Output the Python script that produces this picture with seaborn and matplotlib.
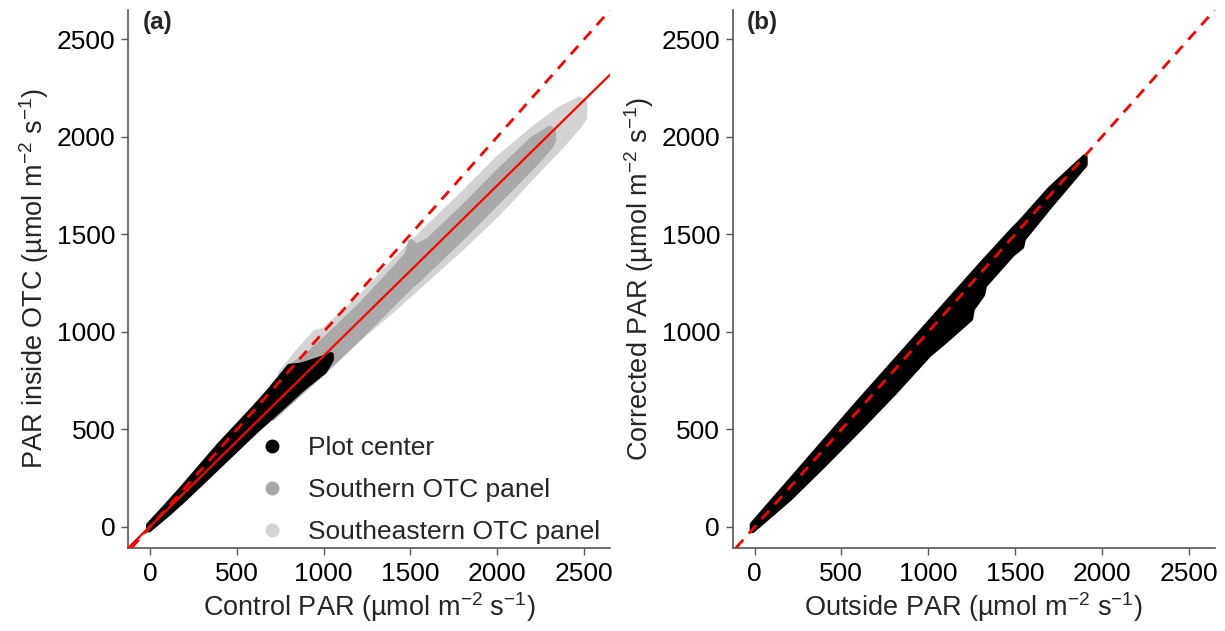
import matplotlib
matplotlib.use("Agg")
import matplotlib.pyplot as plt
from matplotlib.lines import Line2D
import seaborn as sns

# ---- data: envelopes of the PAR point clouds (umol m-2 s-1) ----
# Panel (a): inside OTC vs control
center_x = [-10, 100, 200, 300, 400, 500, 600, 700, 800, 860, 900, 1000, 1040]
center_hi = [12, 118, 218, 322, 425, 520, 615, 715, 825, 830, 840, 870, 885]
center_lo = [-12, 70, 150, 235, 320, 405, 490, 570, 650, 700, 730, 800, 860]

south_x = [700, 800, 900, 1000, 1200, 1400, 1480, 1500, 1530, 1600, 1800, 2000, 2200, 2300, 2320]
south_hi = [720, 820, 880, 960, 1130, 1320, 1400, 1465, 1440, 1470, 1640, 1820, 1990, 2045, 2030]
south_lo = [560, 640, 720, 800, 970, 1150, 1220, 1240, 1260, 1320, 1490, 1670, 1850, 1950, 1985]

southeast_x = [750, 850, 950, 1000, 1200, 1400, 1600, 1800, 2000, 2200, 2350, 2470, 2500]
southeast_hi = [790, 900, 1000, 1010, 1170, 1360, 1540, 1710, 1890, 2040, 2140, 2195, 2180]
southeast_lo = [600, 690, 770, 810, 970, 1120, 1280, 1440, 1610, 1800, 1940, 2060, 2100]

fit_slope = 0.874
fit_intercept = 3.0

# Panel (b): corrected vs outside
corr_x = [-15, 200, 400, 600, 800, 1000, 1100, 1240, 1250, 1310, 1320, 1480, 1535, 1545, 1700, 1900]
corr_hi = [15, 235, 440, 645, 845, 1045, 1145, 1285, 1295, 1355, 1365, 1520, 1570, 1580, 1735, 1900]
corr_lo = [-15, 150, 325, 505, 690, 885, 960, 1070, 1120, 1195, 1240, 1400, 1440, 1480, 1650, 1860]

series_names = ["Plot center", "Southern OTC panel", "Southeastern OTC panel"]
series_colors = ["#000000", "#A9A9A9", "#D3D3D3"]

ticks = [0, 500, 1000, 1500, 2000, 2500]
xlim = (-127, 2650)
ylim = (-108, 2650)

sns.set_theme(style="ticks")
plt.rcParams["font.family"] = ["Liberation Sans", "DejaVu Sans"]
plt.rcParams["mathtext.fontset"] = "custom"
plt.rcParams["mathtext.rm"] = "Liberation Sans"
plt.rcParams["mathtext.it"] = "Liberation Sans:italic"

fig = plt.figure(figsize=(12.25, 6.31), dpi=100)
ax_a = fig.add_axes([0.1045, 0.1315, 0.3935, 0.8525])
ax_b = fig.add_axes([0.598, 0.1315, 0.3935, 0.8525])

spine_col = "#555555"
tick_fs = 19
label_fs = 19.5


def cloud(ax, x, lo, hi, color, z):
    ax.fill_between(x, lo, hi, facecolor=color, edgecolor=color,
                    linewidth=4, joinstyle="round", capstyle="round", zorder=z)


def style(ax, xlabel, ylabel, tag):
    ax.set_xlim(*xlim)
    ax.set_ylim(*ylim)
    ax.set_xticks(ticks)
    ax.set_yticks(ticks)
    ax.tick_params(axis="both", labelsize=tick_fs, length=5, width=1,
                   color=spine_col, labelcolor="black", direction="out")
    ax.tick_params(axis="y", pad=4)
    ax.tick_params(axis="x", pad=5)
    for s in ["top", "right"]:
        ax.spines[s].set_visible(False)
    for s in ["left", "bottom"]:
        ax.spines[s].set_color(spine_col)
        ax.spines[s].set_linewidth(1.2)
    ax.set_xlabel(xlabel, fontsize=label_fs, labelpad=3)
    ax.set_ylabel(ylabel, fontsize=label_fs, labelpad=4)
    ax.text(0.03, 0.998, tag, transform=ax.transAxes, fontsize=17.5,
            fontweight="bold", va="top", ha="left")


unit = "(µmol m$^{\u22122}$ s$^{\u22121}$)"

# Panel (a)
cloud(ax_a, southeast_x, southeast_lo, southeast_hi, series_colors[2], 1)
cloud(ax_a, south_x, south_lo, south_hi, series_colors[1], 2)
cloud(ax_a, center_x, center_lo, center_hi, series_colors[0], 3)
ax_a.axline((0, 0), slope=1, color="#FF0000", lw=2, ls=(0, (4, 3)), zorder=4)
ax_a.axline((0, fit_intercept), slope=fit_slope, color="#FF0000", lw=1.6, zorder=4)
style(ax_a, "Control PAR " + unit, "PAR inside OTC " + unit, "(a)")

handles = [Line2D([], [], ls="none", marker="o", markersize=9,
                  markerfacecolor=c, markeredgecolor=c) for c in series_colors]
ax_a.legend(handles, series_names, loc="lower left", bbox_to_anchor=(0.212, -0.022),
            frameon=False, fontsize=19, handletextpad=0.33, labelspacing=0.68,
            borderaxespad=0.2)

# Panel (b)
cloud(ax_b, corr_x, corr_lo, corr_hi, series_colors[0], 3)
ax_b.axline((0, 0), slope=1, color="#FF0000", lw=2, ls=(0, (4, 3)), zorder=4)
style(ax_b, "Outside PAR " + unit, "Corrected PAR " + unit, "(b)")

fig.savefig("out.png", dpi=100)
